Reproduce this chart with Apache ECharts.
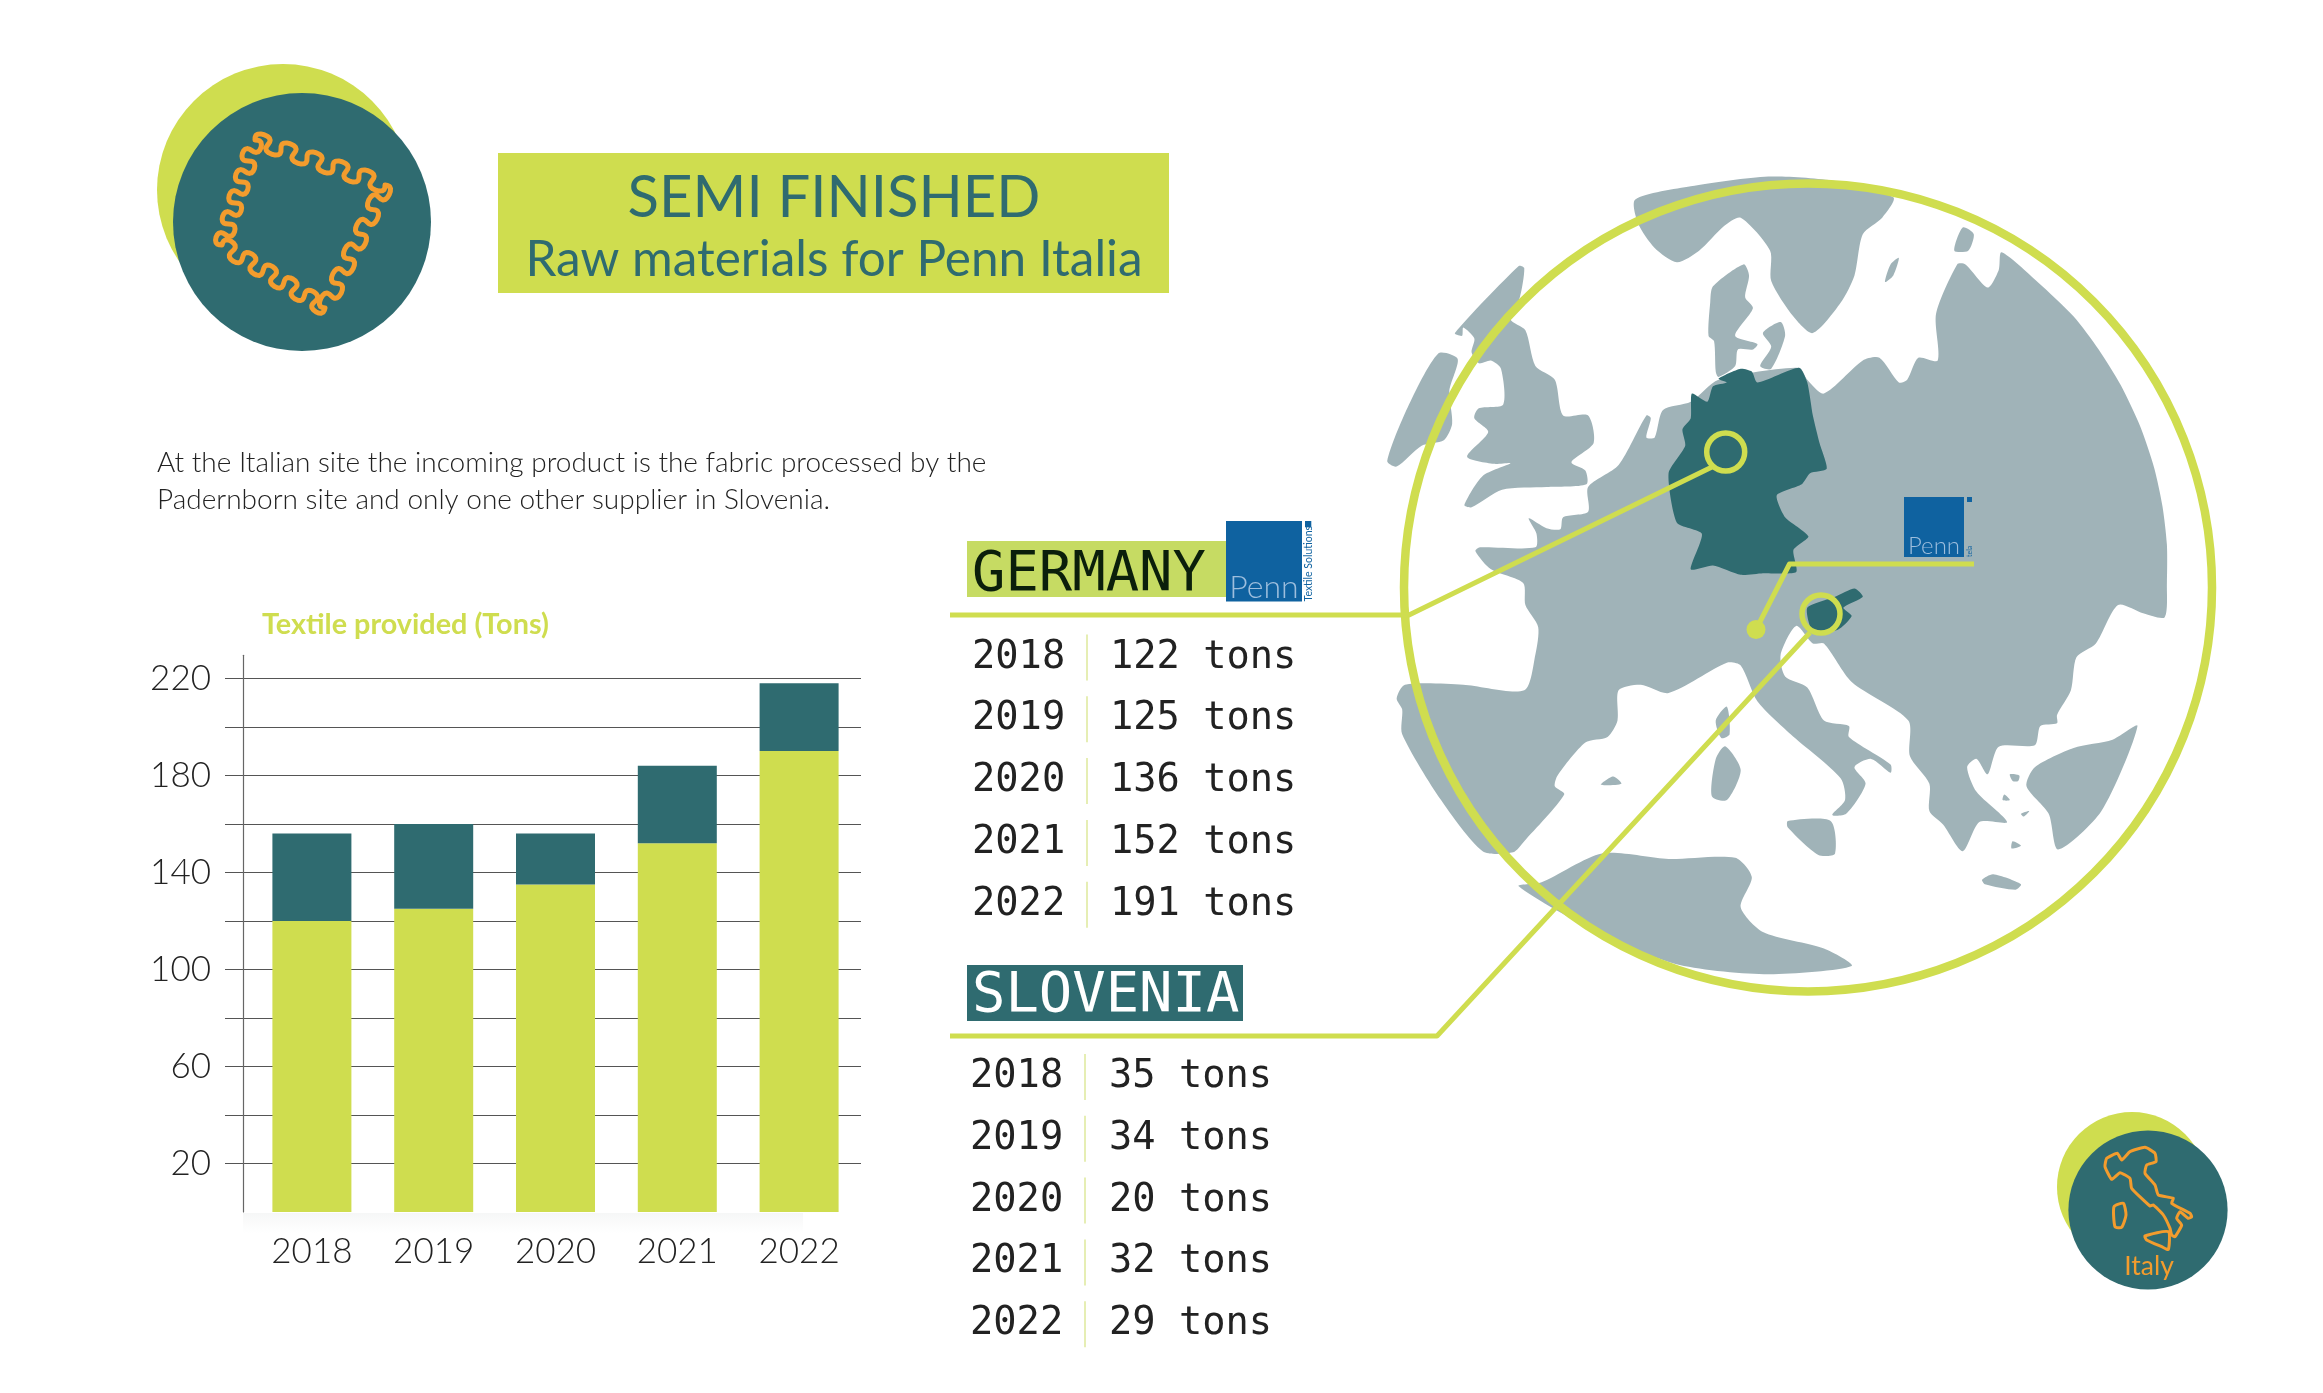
<!DOCTYPE html>
<html><head><meta charset="utf-8">
<style>html,body{margin:0;padding:0;background:#fff}#c{width:2323px;height:1393px}</style>
<script src="https://cdn.jsdelivr.net/npm/echarts@6/dist/echarts.min.js"></script>
</head><body><div id="c"></div>
<script>
const years = ['2018','2019','2020','2021','2022'];
const germanyBars = [120,125,135,152,190];
const sloveniaBars = [36,35,21,32,28];
const yLabels = [20,60,100,140,180,220];
const germanyTons = [122,125,136,152,191];
const sloveniaTons = [35,34,20,32,29];
const titleLines = ['SEMI FINISHED','Raw materials for Penn Italia'];
const introLines = ['At the Italian site the incoming product is the fabric processed by the','Padernborn site and only one other supplier in Slovenia.'];

const LIME='#CFDD4F', TEAL='#2F6B70', ORANGE='#F39C2D', LAND='#A0B3B8', BLUE='#0F62A0';
const SANS='Lato, "Open Sans", sans-serif', MONO='"DejaVu Sans Mono", monospace';

const land = [
 [[460,72],[560,48],[700,30],[820,38],[925,68],[905,105],[870,135],[855,210],[830,260],[780,315],[745,285],[705,220],[703,165],[650,105],[620,120],[575,165],[535,186],[495,160],[465,115]],
 [[600,230],[655,190],[665,210],[658,250],[672,270],[640,320],[680,335],[672,345],[645,345],[640,375],[610,395],[605,385],[602,330],[592,320],[595,260]],
 [[690,315],[722,295],[730,320],[705,380],[685,375],[705,340]],
 [[1050,123],[1070,135],[1060,165],[1035,165]],
 [[935,178],[925,210],[910,222],[920,190]],
 [[135,315],[250,193],[260,197],[252,250],[235,290],[262,310],[280,375],[315,400],[330,465],[375,465],[385,515],[345,550],[370,565],[372,590],[300,595],[220,600],[165,632],[152,628],[185,575],[235,552],[205,553],[157,540],[195,495],[170,470],[178,452],[222,445],[218,380],[200,365],[178,370],[165,350],[170,325],[150,305],[148,320]],
 [[105,352],[140,362],[125,420],[130,480],[115,510],[75,520],[30,558],[13,548],[50,450]],
 [[375,640],[375,595],[430,555],[480,465],[488,470],[480,505],[495,505],[510,455],[560,440],[610,400],[755,378],[770,400],[800,425],[870,365],[900,360],[935,405],[950,400],[970,360],[1005,365],[1002,280],[1040,190],[1055,190],[1095,232],[1115,200],[1120,168],[1185,222],[1250,285],[1295,345],[1335,410],[1370,485],[1395,560],[1410,630],[1418,700],[1418,770],[1414,832],[1375,825],[1330,810],[1290,880],[1255,905],[1245,965],[1220,1010],[1220,1025],[1190,1030],[1180,1065],[1115,1068],[1095,1118],[1075,1090],[1058,1105],[1075,1150],[1130,1205],[1080,1205],[1050,1258],[1015,1210],[990,1185],[990,1135],[955,1085],[952,1020],[850,950],[800,880],[780,880],[750,848],[722,900],[730,940],[770,960],[800,1020],[845,1030],[845,1050],[920,1100],[920,1115],[885,1090],[855,1105],[875,1135],[840,1190],[815,1192],[838,1165],[830,1125],[740,1045],[680,985],[650,920],[625,915],[520,970],[470,955],[430,965],[428,1020],[410,1050],[370,1060],[320,1120],[315,1140],[332,1155],[260,1240],[240,1260],[185,1258],[110,1165],[40,1045],[40,1000],[30,980],[45,955],[150,955],[260,965],[280,900],[285,850],[262,810],[258,770],[200,745],[172,712],[180,705],[280,705],[282,680],[268,652],[300,670],[325,672],[330,650]],
 [[625,995],[630,1045],[615,1052],[605,1020]],
 [[622,1067],[650,1110],[625,1165],[598,1158],[605,1090]],
 [[420,1122],[435,1135],[398,1137]],
 [[735,1203],[812,1203],[820,1262],[790,1265],[735,1215]],
 [[250,1322],[290,1315],[400,1262],[520,1272],[640,1270],[670,1305],[650,1360],[690,1405],[800,1435],[850,1467],[700,1482],[540,1465],[400,1410]],
 [[1365,1030],[1300,1185],[1222,1255],[1205,1190],[1165,1140],[1180,1105],[1250,1070],[1320,1055]],
 [[1135,1118],[1152,1120],[1150,1130],[1140,1130]],
 [[1125,1155],[1135,1165],[1122,1165]],
 [[1155,1190],[1170,1185],[1160,1195]],
 [[1140,1240],[1155,1248],[1138,1253]],
 [[1085,1310],[1105,1300],[1155,1318],[1145,1328],[1090,1318]]
];
const germanyShape = [[610,398],[650,380],[670,385],[680,405],[755,378],[770,405],[780,465],[792,515],[805,562],[775,570],[760,590],[715,610],[730,650],[772,685],[745,710],[750,750],[690,752],[650,755],[600,738],[560,745],[580,680],[535,660],[520,570],[550,520],[545,490],[560,470],[562,425],[590,440],[600,412],[625,405]];
const sloveniaShape = [[770,815],[820,795],[855,780],[870,795],[835,815],[850,830],[825,855],[780,858]];
const italyShape = [[200,205],[232,190],[245,210],[270,185],[315,172],[345,190],[348,215],[320,225],[315,250],[345,285],[355,315],[400,325],[395,340],[450,370],[455,380],[445,385],[420,365],[410,385],[425,405],[405,440],[395,435],[390,415],[370,375],[340,345],[330,348],[275,295],[270,265],[240,248],[215,268],[195,230]];
const sardiniaShape = [[222,350],[250,340],[258,375],[245,412],[225,410]];
const sicilyShape = [[315,438],[385,425],[385,478],[365,470],[320,450]];
const stitchCorners = [[255,140,5],[385,185,5],[325,308,5],[222,245,5]];

function stitchPoints(){
  const pts=[];
  stitchCorners.forEach((c,i)=>{
    const d=stitchCorners[(i+1)%4],dx=d[0]-c[0],dy=d[1]-c[1],L=Math.hypot(dx,dy);
    const nx=dy/L,ny=-dx/L,ux=dx/L,uy=dy/L,n=c[2],steps=n*20,per=L/n;
    for(let s=0;s<steps;s++){
      const t=s/steps,th=t*n*2*Math.PI,w=Math.sin(th)*8,a=t*L-Math.sin(2*th)*per*0.13;
      pts.push([c[0]+ux*a+nx*w,c[1]+uy*a+ny*w]);
    }
  });
  return pts;
}
const circle=(cx,cy,r,fill)=>({type:'circle',shape:{cx,cy,r},style:{fill}});
const ring=(cx,cy,r,w,stroke)=>({type:'circle',shape:{cx,cy,r},style:{fill:'none',stroke,lineWidth:w}});
const rect=(x,y,w,h,fill)=>({type:'rect',shape:{x,y,width:w,height:h},style:{fill}});
const text=(t,x,y,font,fill,align,extra)=>({type:'text',style:Object.assign({text:t,x,y,font,fill,textAlign:align||'left',textVerticalAlign:'middle'},extra||{})});
const poly=(pts,w,stroke)=>({type:'polyline',shape:{points:pts},style:{stroke:stroke||LIME,lineWidth:w,fill:'none',lineJoin:'round'}});

function logo(x,y,w,h,pennSize,pennY,side,sideSize){
  const sq=Math.max(sideSize*.6,5);
  return [rect(x,y,w,h,BLUE),
    text('Penn',x+w/2,pennY,'300 '+pennSize+'px '+SANS,'#9DBEDD','center'),
    rect(x+w+3,y,sq,sq,BLUE),
    {type:'text',x:x+w+3+sq/2,y:y+h,rotation:Math.PI/2,originX:0,originY:0,
     style:{text:side,x:0,y:0,font:sideSize+'px '+SANS,fill:BLUE,textAlign:'left',textVerticalAlign:'middle'}}];
}
function tableRows(vals,x0,xv,xs,y0){
  const out=[];
  vals.forEach((v,i)=>{
    const y=y0+i*61.8;
    out.push(text(years[i],x0,y,'38.7px '+MONO,'#222'));
    out.push(rect(xs-1,y-23,2,46,'#E6EEB4'));
    out.push(text(v+' tons',xv,y,'38.7px '+MONO,'#222'));
  });
  return out;
}
const mapGroup={type:'group',x:1380,y:160,scaleX:1/1.802,scaleY:1/1.82,children:[
  ...land.map(p=>({type:'polygon',shape:{points:p,smooth:0.25},style:{fill:LAND}})),
  {type:'polygon',shape:{points:germanyShape,smooth:0.2},style:{fill:TEAL}},
  {type:'polygon',shape:{points:sloveniaShape,smooth:0.2},style:{fill:TEAL}}
]};
const italyGroup={type:'group',x:2040,y:1090,scaleX:1/3,scaleY:1/3,children:[
  {type:'polygon',shape:{points:italyShape,smooth:0.15},style:{fill:'none',stroke:ORANGE,lineWidth:9}},
  {type:'polygon',shape:{points:sardiniaShape,smooth:0.2},style:{fill:'none',stroke:ORANGE,lineWidth:9}},
  {type:'polygon',shape:{points:sicilyShape,smooth:0.2},style:{fill:'none',stroke:ORANGE,lineWidth:9}}
]};

const graphics=[
  circle(283,190,126,LIME),
  circle(302,222,129,TEAL),
  {type:'polygon',shape:{points:stitchPoints()},style:{fill:'none',stroke:ORANGE,lineWidth:5,lineJoin:'round'}},
  rect(498,153,671,140,LIME),
  text(titleLines[0],834,198,'400 58px '+SANS,TEAL,'center',{shadowColor:'#fff',shadowBlur:0,shadowOffsetX:2,shadowOffsetY:1}),
  text(titleLines[1],834,260,'400 49.5px '+SANS,TEAL,'center',{shadowColor:'#fff',shadowBlur:0,shadowOffsetX:2,shadowOffsetY:1}),
  text(introLines[0],157,463,'300 28px '+SANS,'#222'),
  text(introLines[1],157,500,'300 28px '+SANS,'#222'),
  text('Textile provided (Tons)',262,625,'bold 28.8px '+SANS,LIME),
  {type:'rect',shape:{x:243,y:1213,width:560,height:20},style:{fill:{type:'linear',x:0,y:0,x2:0,y2:1,colorStops:[{offset:0,color:'#f6f7f7'},{offset:1,color:'#ffffff'}]}}},

  rect(967,541,260,56,'#C6DB63'),
  text('GERMANY',972,575.5,'55.5px '+MONO,'#0B1F0B'),
  ...logo(1226,521,76,80.5,32,588,'Textile Solutions',10.5),
  ...tableRows(germanyTons,972,1110,1087,657.5),
  rect(967,965,276,56,TEAL),
  text('SLOVENIA',972,997,'55.5px '+MONO,'#fff'),
  ...tableRows(sloveniaTons,970,1109,1085,1077),

  mapGroup,
  ring(1808,587.4,404,8.5,LIME),
  poly([[950,615],[1409,615],[1712,467]],5),
  poly([[950,1036],[1437,1036],[1810,632.5]],5),
  ring(1725.7,452,19,5.5,LIME),
  ring(1821,614,19,5.5,LIME),
  circle(1756,629.5,9.5,LIME),
  poly([[1756,629.5],[1789.5,564],[1974,564]],5),
  ...logo(1904,497,60,60,24,546,'tela',7),

  circle(2132,1187,75,LIME),
  circle(2148,1210,79.6,TEAL),
  italyGroup,
  text('Italy',2149,1266,'26.5px '+SANS,ORANGE,'center')
];

const chart=echarts.init(document.getElementById('c'),null,{renderer:'canvas',width:2323,height:1393});
const TOP=655.3,BOTTOM=181,YMAX=229.5;
chart.setOption({
  backgroundColor:'#fff',animation:false,
  graphic:{elements:graphics},
  grid:[{left:251,width:609,top:TOP,bottom:BOTTOM},{left:225,width:636,top:TOP,bottom:BOTTOM}],
  xAxis:[
    {type:'category',gridIndex:0,data:years,axisLine:{show:false},axisTick:{show:false},
     axisLabel:{margin:22,fontSize:35,fontWeight:300,fontFamily:SANS,color:'#222'}},
    {type:'category',gridIndex:1,data:years,show:false}
  ],
  yAxis:[
    {type:'value',gridIndex:0,min:0,max:YMAX,interval:20,offset:8,
     axisLine:{show:true,lineStyle:{color:'#666',width:1.2}},axisTick:{show:false},axisLabel:{show:false},splitLine:{show:false}},
    {type:'value',gridIndex:1,min:0,max:YMAX,interval:20,
     axisLine:{show:false},axisTick:{show:false},
     axisLabel:{customValues:yLabels,margin:14,fontSize:35,fontWeight:300,fontFamily:SANS,color:'#222'},
     splitLine:{show:true,showMinLine:false,showMaxLine:false,lineStyle:{color:'#555',width:1.2}}}
  ],
  series:[
    {name:'Germany',type:'bar',stack:'t',barWidth:79,xAxisIndex:0,yAxisIndex:0,data:germanyBars,itemStyle:{color:LIME}},
    {name:'Slovenia',type:'bar',stack:'t',barWidth:79,xAxisIndex:0,yAxisIndex:0,data:sloveniaBars,itemStyle:{color:TEAL}}
  ]
});
</script></body></html>
